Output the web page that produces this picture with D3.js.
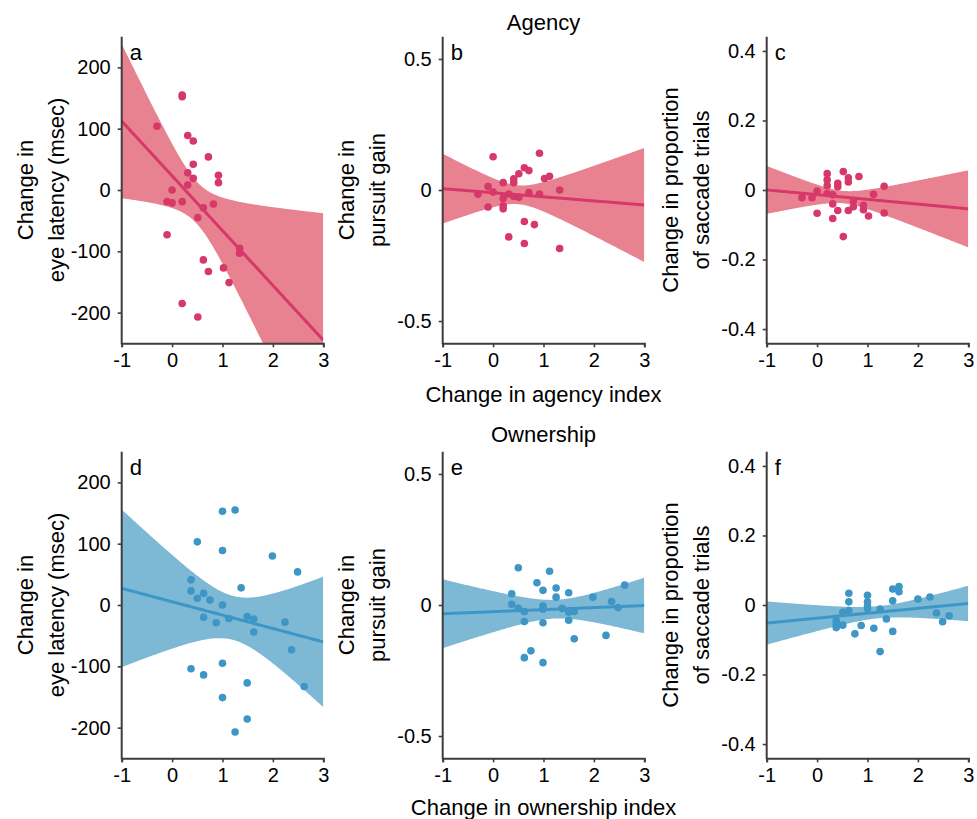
<!DOCTYPE html>
<html>
<head>
<meta charset="utf-8">
<script src="https://cdn.jsdelivr.net/npm/d3@7"></script>
<style>
  body { margin: 0; background: #fff; }
  svg text { font-family: "Liberation Sans", Arial, Helvetica, sans-serif; fill: #000; }
</style>
</head>
<body>
<div id="chart"></div>
<script>
// x values: change in agency / ownership index
var xTicks = [-1, 0, 1, 2, 3];
var latencyTicks = [-200, -100, 0, 100, 200];
var gainTicks = [-0.5, 0, 0.5];
var saccadeTicks = [-0.4, -0.2, 0, 0.2, 0.4];

// a: agency vs eye latency
var agencyLatencyX = [0.2, 0.2, -0.3, 0.31, 0.42, 0.72, 0.42, 0.31, 0.92, 0.92, 0.42, 0.31, 0, -0.1, 0, 0.2, 0.62, 0.82, 0.51, -0.1, 1.34, 1.34, 0.62, 0.72, 1.02, 1.13, 0.2, 0.51];
var agencyLatencyY = [155, 152, 104, 89, 80, 54, 42, 28, 24, 12, 19, 8, 0, -19, -21, -19, -29, -23, -45, -73, -95, -103, -114, -133, -127, -151, -185, -207];

// b: agency vs pursuit gain
var agencyGainX = [0, 0.92, 0.62, 0.71, 0.51, 0.41, 0.41, 1.02, 1.12, 0.2, -0.1, -0.3, 0, 0.31, 0.2, 0.41, 0.51, 0.71, 0.92, 1.32, -0.1, 0.2, 0.2, 0.62, 0.82, 0.31, 0.62, 1.32];
var agencyGainY = [0.127, 0.14, 0.085, 0.074, 0.062, 0.043, 0.028, 0.044, 0.052, 0.028, 0.013, -0.016, -0.008, -0.015, -0.032, -0.025, -0.028, -0.01, -0.015, 0, -0.065, -0.06, -0.072, -0.12, -0.132, -0.179, -0.204, -0.223];

// c: agency vs saccade proportion
var agencySaccadeX = [0.52, 0.2, 0.2, 0.2, 0.41, 0.41, 0.62, 0.62, 0.83, 1.33, -0.3, -0.1, 0, 0.2, 0.31, 0.31, 0.41, 0, 0.31, 0.62, 0.72, 0.72, 0.92, 0.92, 1.02, 1.12, 1.33, 0.52];
var agencySaccadeY = [0.053, 0.047, 0.029, 0.0125, 0.019, 0.009, 0.035, 0.023, 0.039, 0.011, -0.022, -0.022, -0.003, -0.01, -0.014, -0.04, -0.059, -0.067, -0.082, -0.059, -0.048, -0.032, -0.044, -0.057, -0.075, -0.0125, -0.066, -0.134];

// d: ownership vs eye latency
var ownershipLatencyX = [1.0, 1.25, 0.5, 1.0, 1.99, 2.49, 0.375, 1.37, 0.375, 0.625, 0.5, 0.75, 1.0, 0.625, 0.875, 1.125, 1.49, 1.62, 1.62, 2.24, 2.37, 0.375, 1.0, 0.625, 1.49, 2.62, 1.0, 1.49, 1.25];
var ownershipLatencyY = [153, 155, 103, 89, 80, 54, 41, 28, 23, 19, 11, 8, 0, -20, -29, -22, -19, -23, -44, -28, -73, -104, -95, -114, -127, -133, -151, -186, -207];

// e: ownership vs pursuit gain
var ownershipGainX = [0.5, 1.12, 0.87, 1.25, 0.99, 0.37, 1.5, 2.61, 1.25, 1.98, 2.35, 0.37, 0.5, 0.62, 0.99, 0.99, 1.37, 1.5, 1.61, 2.48, 0.62, 0.99, 1.5, 1.61, 2.24, 0.75, 0.62, 0.99];
var ownershipGainY = [0.142, 0.129, 0.085, 0.065, 0.056, 0.043, 0.047, 0.076, 0.03, 0.03, 0.013, 0.003, -0.013, -0.025, -0.004, -0.016, -0.013, -0.027, -0.025, -0.01, -0.063, -0.068, -0.058, -0.129, -0.116, -0.175, -0.201, -0.22];

// f: ownership vs saccade proportion
var ownershipSaccadeX = [0.63, 0.63, 0.63, 0.51, 0.38, 0.38, 0.51, 0.38, 0.75, 0.875, 1.0, 1.0, 1.0, 1.0, 1.125, 1.25, 1.25, 1.375, 1.5, 1.5, 1.5, 1.625, 1.625, 2.0, 2.24, 2.37, 2.49, 2.62];
var ownershipSaccadeY = [0.034, 0.009, -0.016, -0.021, -0.045, -0.065, -0.058, -0.056, -0.083, -0.059, 0.028, 0.009, -0.011, -0.003, -0.067, -0.012, -0.134, -0.04, 0.046, 0.012, -0.076, 0.053, 0.038, 0.017, 0.023, -0.023, -0.048, -0.031];

var pink = { point: "#d6386a", band: "#e88290" };
var blue = { point: "#3d96c6", band: "#7db8d5" };

var colLeft = [121.7, 442.7, 766.7];
var rowTop = [36.7, 451.7];
var plotW = 201.6, plotH = 306.6;

var svg = d3.select("#chart")
    .append("svg")
    .attr("width", 977)
    .attr("height", 819);

// plain number labels with a hyphen for minus
function plainFormat(d) {
    return d === 0 ? "0" : String(d);
}

// least squares fit with 95% confidence band
function fit(xs, ys) {
    var n = xs.length;
    var mx = d3.mean(xs), my = d3.mean(ys);
    var sxx = 0, sxy = 0;
    for (var i = 0; i < n; i++) {
        sxx += (xs[i] - mx) * (xs[i] - mx);
        sxy += (xs[i] - mx) * (ys[i] - my);
    }
    var b = sxy / sxx, a = my - b * mx;
    var sse = 0;
    for (var j = 0; j < n; j++) {
        var r = ys[j] - (a + b * xs[j]);
        sse += r * r;
    }
    var s = Math.sqrt(sse / (n - 2));
    var t = 2.056;
    return d3.range(-1, 3.0001, 0.02).map(function(x) {
        var yh = a + b * x;
        var h = t * s * Math.sqrt(1 / n + (x - mx) * (x - mx) / sxx);
        return { x: x, y: yh, lo: yh - h, hi: yh + h };
    });
}

function drawPanel(o) {
    var left = colLeft[o.col], top = rowTop[o.row];
    var x = d3.scaleLinear().domain([-1, 3]).range([left, left + plotW]);
    var y = d3.scaleLinear().domain(o.domain).range([top + plotH, top]);
    var id = "clip" + o.letter;

    svg.append("clipPath").attr("id", id)
        .append("rect")
        .attr("x", left).attr("y", top)
        .attr("width", plotW).attr("height", plotH);

    var g = svg.append("g").attr("clip-path", "url(#" + id + ")");
    var line = fit(o.xs, o.ys);

    g.append("path")
        .datum(line)
        .attr("fill", o.color.band)
        .attr("d", d3.area()
            .x(function(d) { return x(d.x); })
            .y0(function(d) { return y(d.lo); })
            .y1(function(d) { return y(d.hi); }));

    g.selectAll("circle")
        .data(o.xs)
        .enter()
        .append("circle")
        .attr("cx", function(d) { return x(d); })
        .attr("cy", function(d, i) { return y(o.ys[i]); })
        .attr("r", 3.8)
        .attr("fill", o.color.point);

    g.append("path")
        .datum(line)
        .attr("fill", "none")
        .attr("stroke", o.color.point)
        .attr("stroke-width", 3)
        .attr("d", d3.line()
            .x(function(d) { return x(d.x); })
            .y(function(d) { return y(d.y); }));

    // axes
    var xAxis = svg.append("g")
        .attr("transform", "translate(0," + (top + plotH) + ")")
        .call(d3.axisBottom(x).tickValues(xTicks).tickSizeOuter(0).tickSize(4).tickPadding(6)
            .tickFormat(plainFormat));
    var yAxis = svg.append("g")
        .attr("transform", "translate(" + left + ",0)")
        .call(d3.axisLeft(y).tickValues(o.ticks).tickSizeOuter(0).tickSize(4).tickPadding(7)
            .tickFormat(plainFormat));

    [xAxis, yAxis].forEach(function(ax) {
        ax.select(".domain").attr("stroke", "#3d3d3d").attr("stroke-width", 2);
        ax.selectAll(".tick line").attr("stroke", "#3d3d3d").attr("stroke-width", 1.6);
        ax.selectAll(".tick text").attr("font-size", "20px").attr("fill", "#000")
            .attr("font-family", "Liberation Sans, Arial, sans-serif");
    });
    yAxis.select(".domain").attr("d", "M0," + (top + plotH + 1) + "V" + top);

    svg.append("text")
        .attr("x", left + 8)
        .attr("y", top + 23)
        .attr("font-size", "22px")
        .text(o.letter);

    var cy = top + plotH / 2;
    o.ylabel.forEach(function(t, i) {
        var lx = left - (i === 0 ? 89 : 58);
        svg.append("text")
            .attr("transform", "translate(" + lx + "," + cy + ") rotate(-90)")
            .attr("text-anchor", "middle")
            .attr("font-size", "22px")
            .text(t);
    });
}

var panels = [
    { letter: "a", row: 0, col: 0, xs: agencyLatencyX, ys: agencyLatencyY, domain: [-250, 250], ticks: latencyTicks, color: pink, ylabel: ["Change in", "eye latency (msec)"] },
    { letter: "b", row: 0, col: 1, xs: agencyGainX, ys: agencyGainY, domain: [-0.585, 0.585], ticks: gainTicks, color: pink, ylabel: ["Change in", "pursuit gain"] },
    { letter: "c", row: 0, col: 2, xs: agencySaccadeX, ys: agencySaccadeY, domain: [-0.441, 0.441], ticks: saccadeTicks, color: pink, ylabel: ["Change in proportion", "of saccade trials"] },
    { letter: "d", row: 1, col: 0, xs: ownershipLatencyX, ys: ownershipLatencyY, domain: [-250, 250], ticks: latencyTicks, color: blue, ylabel: ["Change in", "eye latency (msec)"] },
    { letter: "e", row: 1, col: 1, xs: ownershipGainX, ys: ownershipGainY, domain: [-0.585, 0.585], ticks: gainTicks, color: blue, ylabel: ["Change in", "pursuit gain"] },
    { letter: "f", row: 1, col: 2, xs: ownershipSaccadeX, ys: ownershipSaccadeY, domain: [-0.441, 0.441], ticks: saccadeTicks, color: blue, ylabel: ["Change in proportion", "of saccade trials"] }
];

panels.forEach(drawPanel);

// titles and shared x labels
var midX = colLeft[1] + plotW / 2;
[["Agency", 30], ["Change in agency index", 401.7], ["Ownership", 441.7], ["Change in ownership index", 814.5]]
    .forEach(function(t) {
        svg.append("text")
            .attr("x", midX)
            .attr("y", t[1])
            .attr("text-anchor", "middle")
            .attr("font-size", "22px")
            .text(t[0]);
    });
</script>
</body>
</html>
